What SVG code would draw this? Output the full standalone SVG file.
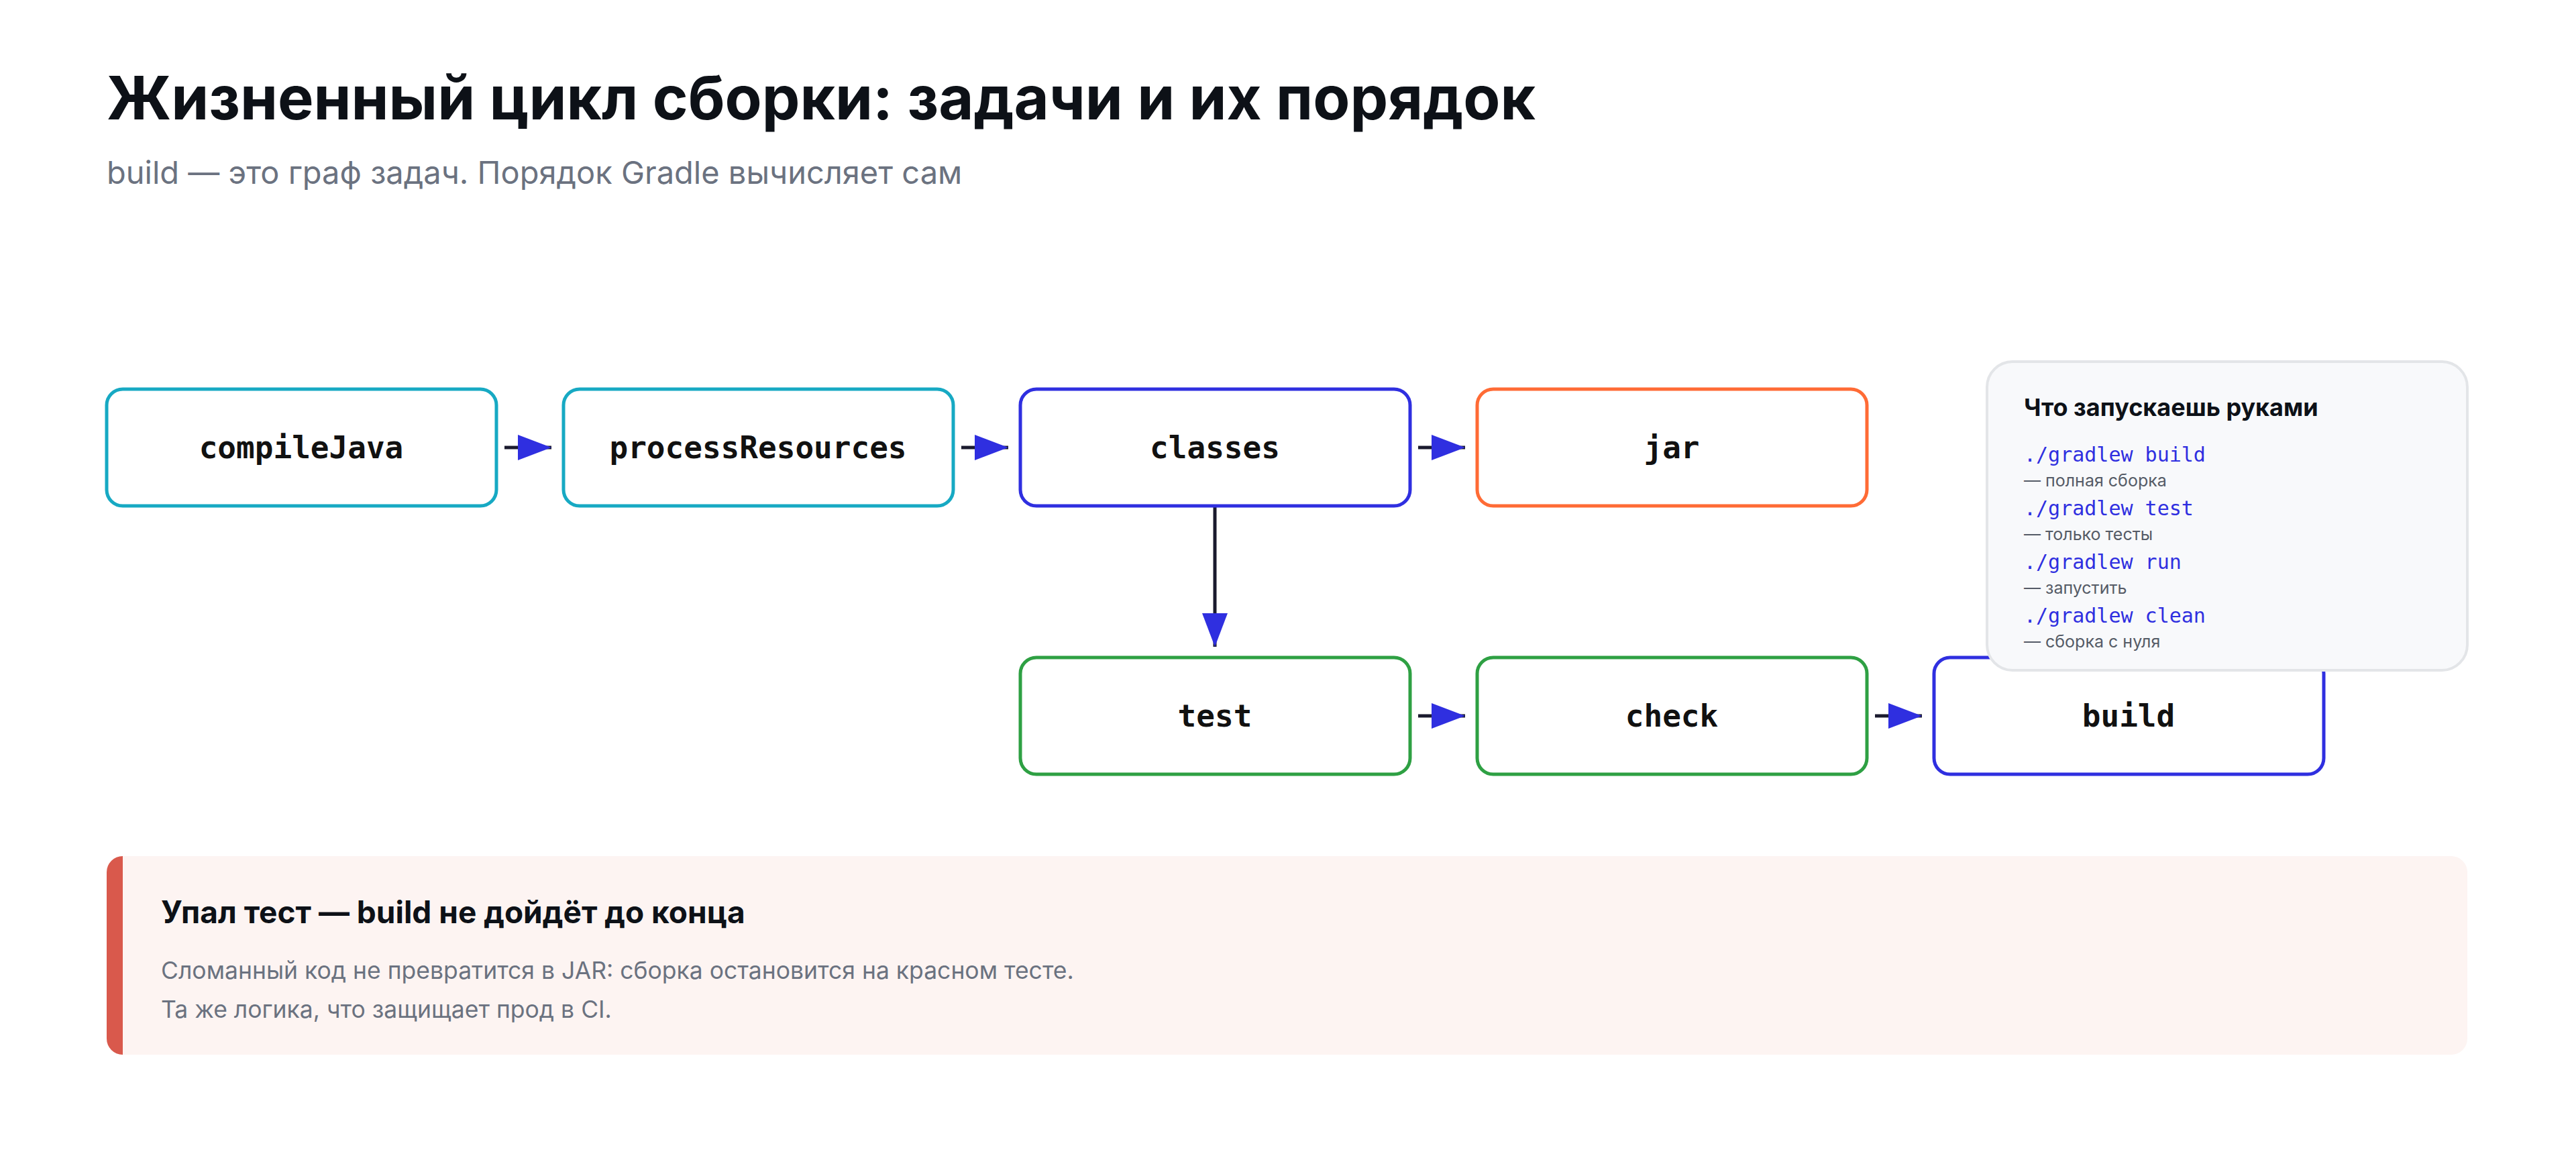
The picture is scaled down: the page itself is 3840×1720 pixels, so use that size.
<svg xmlns="http://www.w3.org/2000/svg" width="3840" height="1720" viewBox="0 0 3840 1720">
<style>
.node{fill:#fff;stroke-width:5}
.lbl{font-family:"DejaVu Sans Mono",monospace;font-weight:bold;font-size:46px;fill:#111;text-anchor:middle}
.conn{stroke:#1a1a2e;stroke-width:5;fill:none}
.sans{font-family:Inter,"Noto Sans",sans-serif}
.cmd{font-family:"DejaVu Sans Mono",monospace;font-size:30px;fill:#2f2fe0}
.desc{font-family:Inter,"Noto Sans",sans-serif;font-size:25px;fill:#555b66}
</style>
<defs>
<marker id="ah" markerWidth="50" markerHeight="38" refX="50" refY="19" orient="auto" markerUnits="userSpaceOnUse"><path d="M0,0 L50,19 L0,38 Z" fill="#2f2fe0"/></marker>
</defs>
<rect width="3840" height="1720" fill="#fff"/>
<text x="159" y="178" class="sans" font-size="90" font-weight="bold" fill="#0d1117">Жизненный цикл сборки: задачи и их порядок</text>
<text x="159" y="274" class="sans" font-size="47" fill="#6b7280">build — это граф задач. Порядок Gradle вычисляет сам</text>
<g id="connectors">
<line class="conn" x1="752" y1="667" x2="822" y2="667" marker-end="url(#ah)"/>
<line class="conn" x1="1433" y1="667" x2="1503" y2="667" marker-end="url(#ah)"/>
<line class="conn" x1="2114" y1="667" x2="2184" y2="667" marker-end="url(#ah)"/>
<line class="conn" x1="1811" y1="754" x2="1811" y2="964" marker-end="url(#ah)"/>
<line class="conn" x1="2114" y1="1067" x2="2184" y2="1067" marker-end="url(#ah)"/>
<line class="conn" x1="2795" y1="1067" x2="2865" y2="1067" marker-end="url(#ah)"/>
</g>
<g id="compileJava"><rect class="node" x="159" y="580" width="581" height="174" rx="24" stroke="#17a9c3"/><text class="lbl" x="449" y="683">compileJava</text></g>
<g id="processResources"><rect class="node" x="840" y="580" width="581" height="174" rx="24" stroke="#17a9c3"/><text class="lbl" x="1130" y="683">processResources</text></g>
<g id="classes"><rect class="node" x="1521" y="580" width="581" height="174" rx="24" stroke="#2f2fe0"/><text class="lbl" x="1811" y="683">classes</text></g>
<g id="jar"><rect class="node" x="2202" y="580" width="581" height="174" rx="24" stroke="#ff6b35"/><text class="lbl" x="2492" y="683">jar</text></g>
<g id="test"><rect class="node" x="1521" y="980" width="581" height="174" rx="24" stroke="#2ea043"/><text class="lbl" x="1811" y="1083">test</text></g>
<g id="check"><rect class="node" x="2202" y="980" width="581" height="174" rx="24" stroke="#2ea043"/><text class="lbl" x="2492" y="1083">check</text></g>
<g id="build"><rect class="node" x="2883" y="980" width="581" height="174" rx="24" stroke="#2f2fe0"/><text class="lbl" x="3173" y="1083">build</text></g>
<g id="info">
<rect x="2962" y="539" width="716" height="460" rx="38" fill="#f8f9fb" stroke="#e3e5e8" stroke-width="4"/>
<text x="3017" y="620" class="sans" font-size="36" font-weight="bold" fill="#0d1117">Что запускаешь руками</text>
<text x="3017" y="688" class="cmd">./gradlew build</text>
<text x="3017" y="725" class="desc">— полная сборка</text>
<text x="3017" y="768" class="cmd">./gradlew test</text>
<text x="3017" y="805" class="desc">— только тесты</text>
<text x="3017" y="848" class="cmd">./gradlew run</text>
<text x="3017" y="885" class="desc">— запустить</text>
<text x="3017" y="928" class="cmd">./gradlew clean</text>
<text x="3017" y="965" class="desc">— сборка с нуля</text>
</g>
<g id="callout">
<rect x="159" y="1276" width="3519" height="296" rx="24" fill="#fdf4f2"/>
<path d="M183,1276 L183,1572 A24,24 0 0 1 159,1548 L159,1300 A24,24 0 0 1 183,1276 Z" fill="#d9594c"/>
<text x="240" y="1376" class="sans" font-size="46" font-weight="bold" fill="#0d1117">Упал тест — build не дойдёт до конца</text>
<text x="240" y="1459" class="sans" font-size="35.5" fill="#6b7280">Сломанный код не превратится в JAR: сборка остановится на красном тесте.</text>
<text x="240" y="1517" class="sans" font-size="35.5" fill="#6b7280">Та же логика, что защищает прод в CI.</text>
</g>
</svg>
